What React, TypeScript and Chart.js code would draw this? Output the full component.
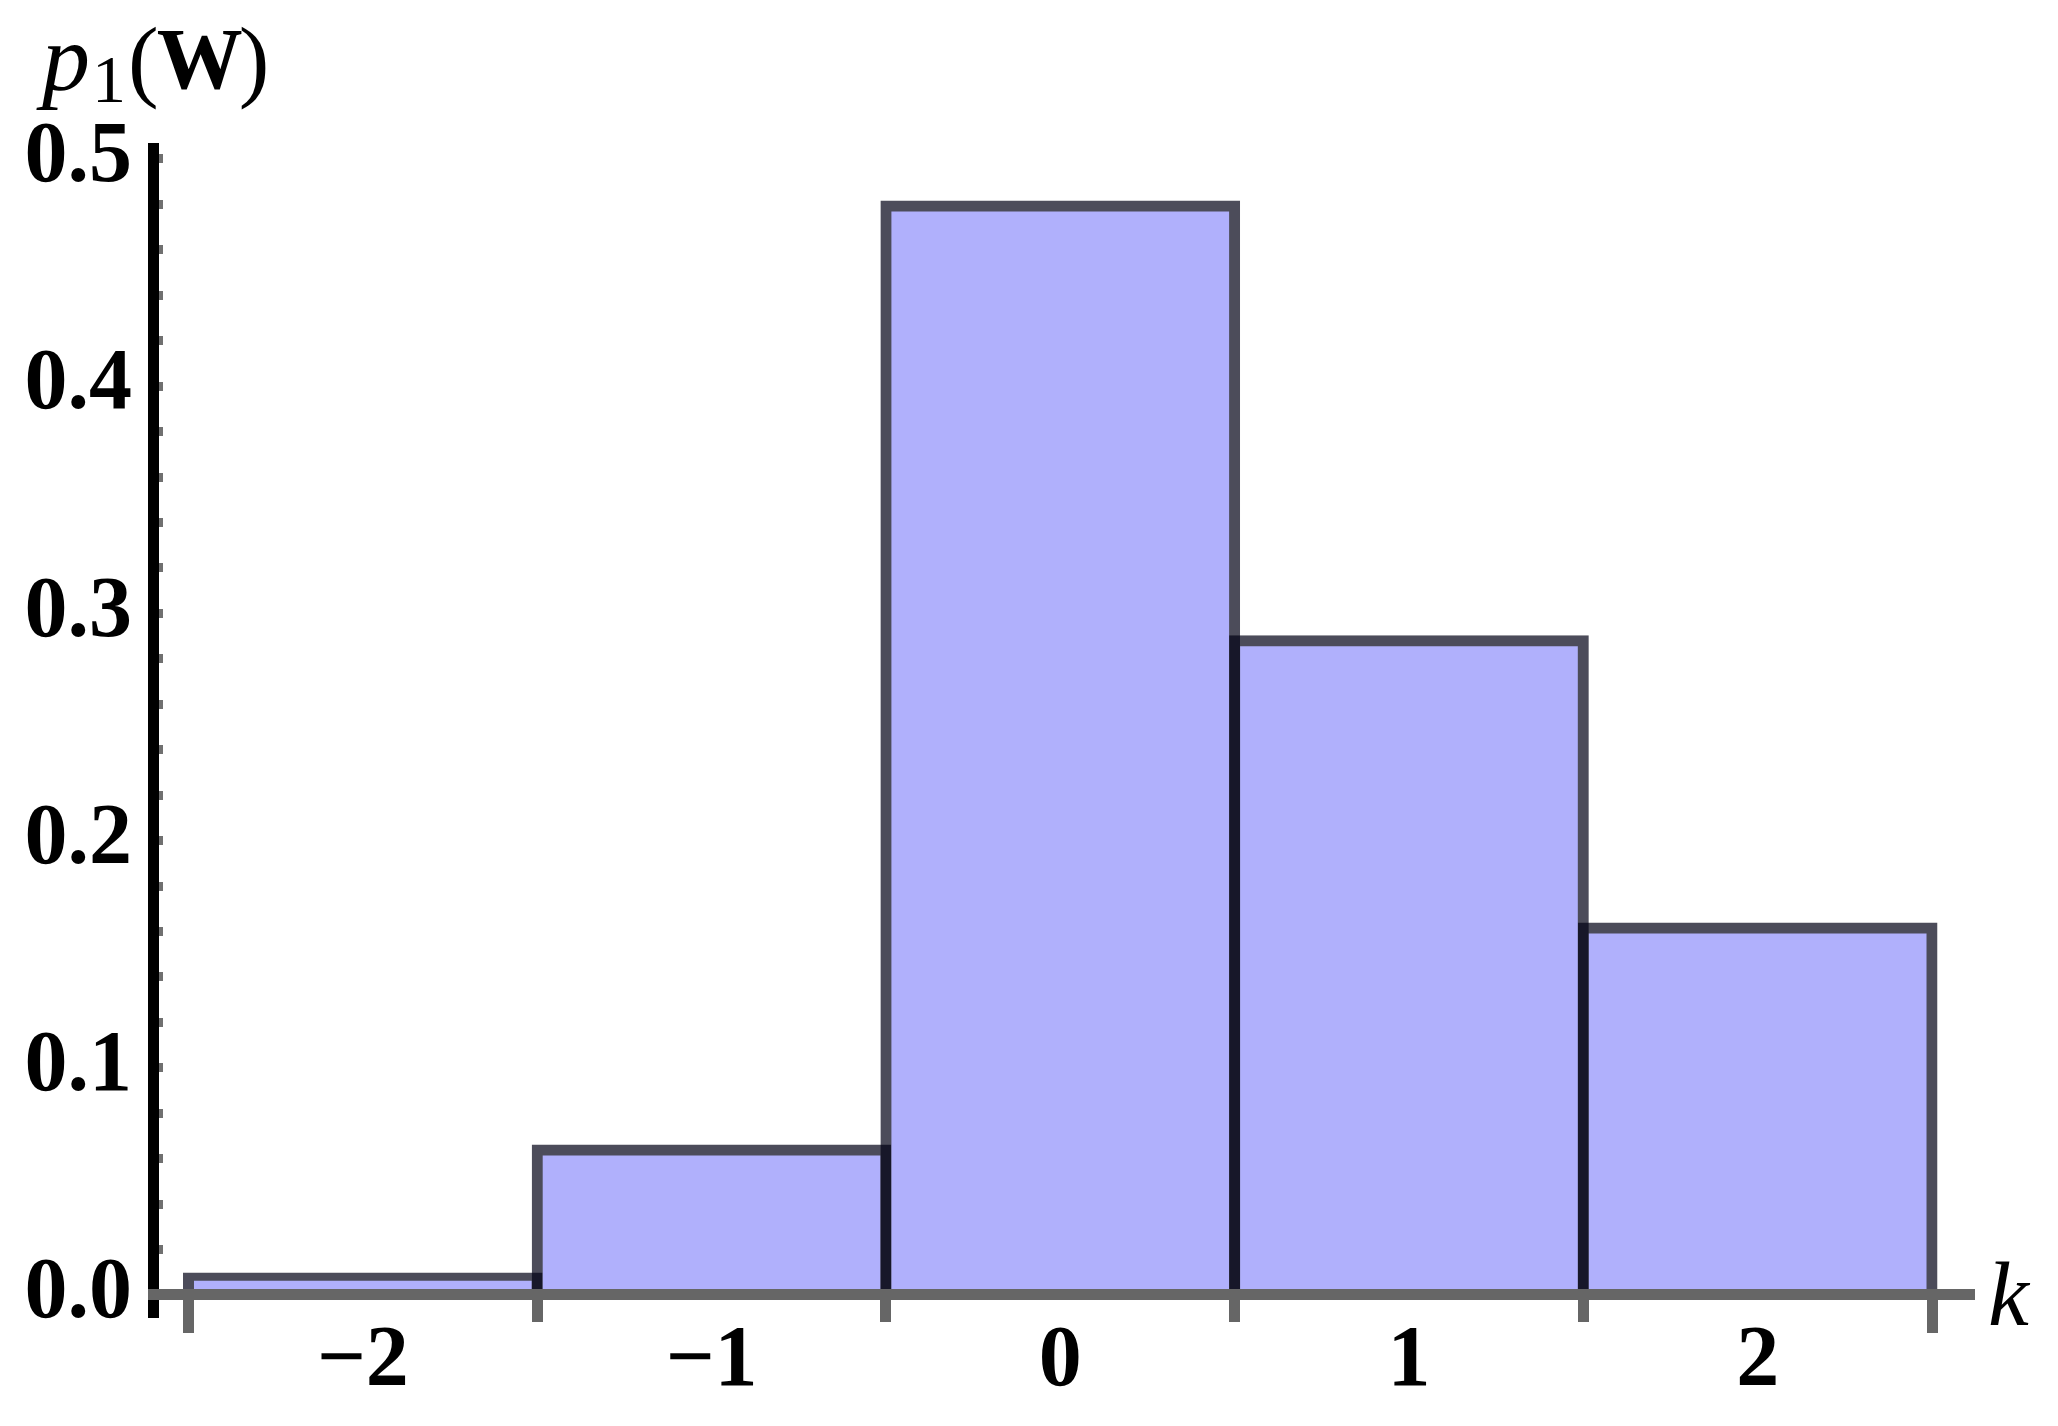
import React, { useEffect, useRef } from 'react';
import { Chart, registerables } from 'chart.js';

Chart.register(...registerables);

// ---- data ----
const categories: number[] = [-2, -1, 0, 1, 2];
const probabilities: number[] = [0.0075, 0.0638, 0.4793, 0.288, 0.1615];
const binEdges: number[] = [-2.5, -1.5, -0.5, 0.5, 1.5, 2.5];
const outerEdges: number[] = [-2.5, 2.5];
const yMajorTicks: number[] = [0, 0.1, 0.2, 0.3, 0.4, 0.5];
const yMinorPerMajor = 5;

const X_MIN = -2.6018;
const X_MAX = 2.6204;
const Y_MIN = -0.00969;
const Y_MAX = 0.50484;

const FONT = "'Liberation Serif', 'Times New Roman', serif";
const W = 2058;
const H = 1426;

function fmtK(v: number): string {
  if (v === 0) return '0';
  return v < 0 ? '\u2212' + Math.abs(v) : String(v);
}

const xTickValues: number[] = [...binEdges, ...categories].sort((a, b) => a - b);

function yTickValues(): number[] {
  const out: number[] = [];
  for (let i = 0; i < yMajorTicks.length; i++) {
    out.push(yMajorTicks[i]);
    if (i < yMajorTicks.length - 1) {
      const a = yMajorTicks[i];
      const b = yMajorTicks[i + 1];
      for (let j = 1; j < yMinorPerMajor; j++) out.push(a + ((b - a) * j) / yMinorPerMajor);
    }
  }
  return out;
}

const axisTitlePlugin = {
  id: 'axisTitlePlugin',
  afterDraw(chart: any) {
    const { ctx, chartArea, scales } = chart;
    ctx.save();
    ctx.fillStyle = '#000';
    ctx.textAlign = 'left';
    ctx.textBaseline = 'alphabetic';
    const base = 90;
    let x = 42;
    const pieces = [
      { t: 'p', font: `italic 96px ${FONT}`, dy: 0, gap: 2 },
      { t: '1', font: `68px ${FONT}`, dy: 12, gap: 2 },
      { t: '(', font: `92px ${FONT}`, dy: 0, gap: -2 },
      { t: 'W', font: `bold 86px ${FONT}`, dy: -2, gap: -4 },
      { t: ')', font: `92px ${FONT}`, dy: 0, gap: 0 },
    ];
    for (const p of pieces) {
      ctx.font = p.font;
      ctx.fillText(p.t, x, base + p.dy);
      x += ctx.measureText(p.t).width + p.gap;
    }
    ctx.font = `italic 92px ${FONT}`;
    ctx.fillText('k', chartArea.right + 14, scales.y.getPixelForValue(0) + 30);
    ctx.restore();
  },
};

export default function App() {
  const ref = useRef<HTMLCanvasElement | null>(null);

  useEffect(() => {
    document.body.style.margin = '0';
    const canvas = ref.current;
    if (!canvas) return;
    const tickFont = { family: FONT, size: 86, weight: 'bold' as const };

    const chart = new Chart(canvas, {
      type: 'bar',
      data: {
        datasets: [
          {
            label: 'p1(W)',
            data: categories.map((c, i) => ({ x: c, y: probabilities[i] })) as any,
            backgroundColor: 'rgb(176,176,252)',
            borderColor: 'rgba(0,0,20,0.7)',
            borderWidth: 11,
            inflateAmount: 5.5,
            borderSkipped: 'start',
            barPercentage: 2,
            categoryPercentage: 1,
            xAxisID: 'x',
            yAxisID: 'y',
          } as any,
        ],
      },
      options: {
        animation: false,
        responsive: false,
        devicePixelRatio: 1,
        layout: { padding: { top: 148, right: 84, bottom: 109, left: 0 } },
        plugins: {
          legend: { display: false },
          tooltip: { enabled: false },
          title: { display: false },
        },
        scales: {
          x: {
            type: 'linear',
            position: { y: 0 } as any,
            min: X_MIN,
            max: X_MAX,
            offset: false,
            afterBuildTicks: (s: any) => {
              s.ticks = xTickValues.map((v) => ({ value: v }));
            },
            ticks: {
              autoSkip: false,
              maxRotation: 0,
              minRotation: 0,
              padding: -6,
              font: tickFont,
              color: '#000',
              callback: (v: any) => (Number.isInteger(Number(v)) ? fmtK(Number(v)) : ''),
            },
            grid: {
              offset: false,
              drawOnChartArea: false,
              drawTicks: true,
              tickLength: 22,
              tickWidth: 11,
              tickColor: (ctx: any) =>
                ctx.tick && Number.isInteger(ctx.tick.value) ? 'rgba(0,0,0,0)' : '#666666',
            },
            border: { display: true, color: '#666666', width: 11, z: 1 },
          } as any,
          x2: {
            type: 'linear',
            axis: 'x',
            position: { y: 0 } as any,
            min: X_MIN,
            max: X_MAX,
            offset: false,
            afterBuildTicks: (s: any) => {
              s.ticks = outerEdges.map((v) => ({ value: v }));
            },
            ticks: { display: false },
            grid: {
              offset: false,
              drawOnChartArea: false,
              drawTicks: true,
              tickLength: 38,
              tickWidth: 11,
              tickColor: '#666666',
            },
            border: { display: false },
          } as any,
          y: {
            type: 'linear',
            position: 'left',
            min: Y_MIN,
            max: Y_MAX,
            afterBuildTicks: (s: any) => {
              s.ticks = yTickValues().map((v) => ({ value: v }));
            },
            afterFit: (s: any) => {
              s.width = 153;
            },
            ticks: {
              autoSkip: false,
              padding: 31,
              font: tickFont,
              color: '#000',
              callback: (v: any) => {
                const n = Number(v);
                return Math.abs(n * 10 - Math.round(n * 10)) < 1e-6 ? n.toFixed(1) : '';
              },
            },
            grid: {
              offset: false,
              drawOnChartArea: false,
              drawTicks: true,
              tickLength: -10,
              tickWidth: 9,
              tickColor: '#707070',
            },
            border: { display: true, color: '#000000', width: 11 },
          } as any,
        },
      },
      plugins: [axisTitlePlugin],
    });

    return () => {
      chart.destroy();
    };
  }, []);

  return (
    <div style={{ position: 'absolute', left: 0, top: 0, width: W, height: H, background: '#fff' }}>
      <canvas ref={ref} width={W} height={H} style={{ display: 'block', width: W, height: H }} />
    </div>
  );
}
